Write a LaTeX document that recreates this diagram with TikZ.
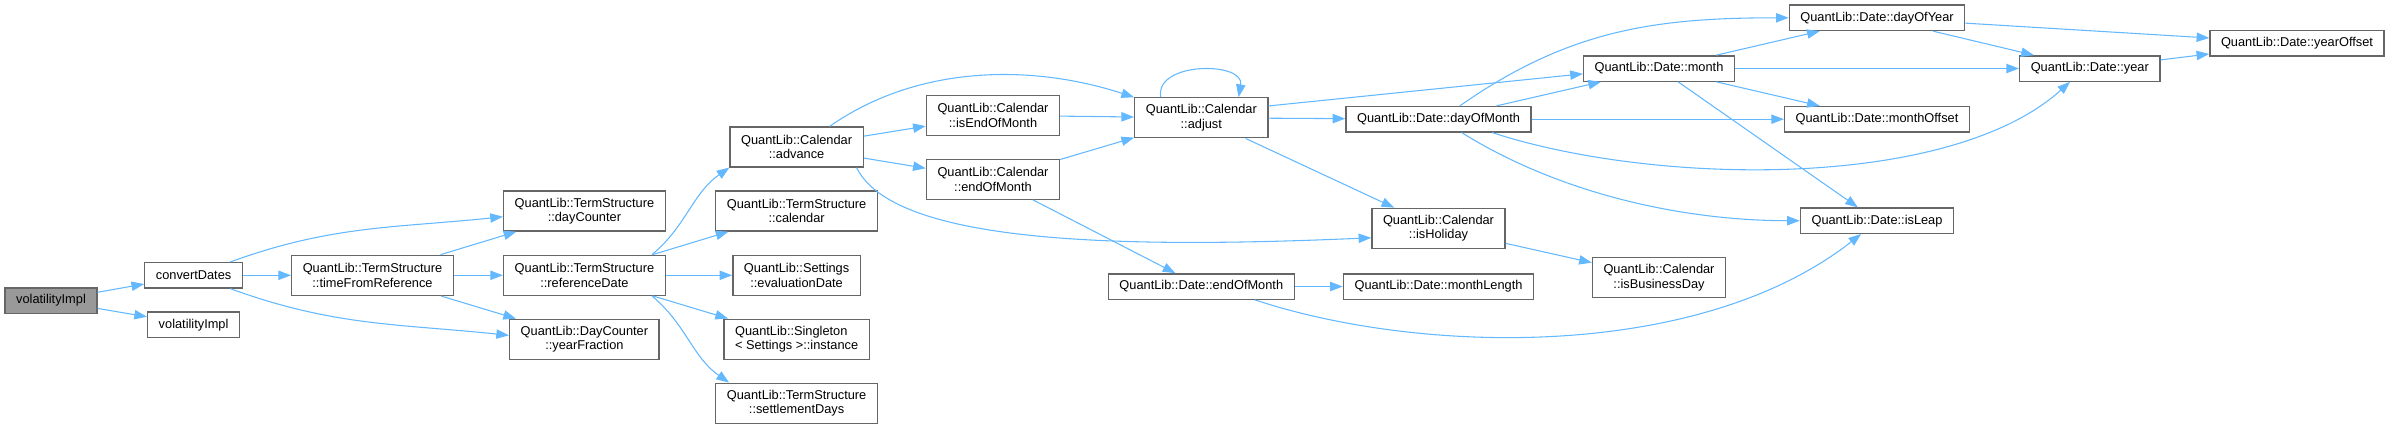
\documentclass[tikz,border=0pt]{standalone}
\usepackage{fontspec}
\setmainfont{Liberation Sans}
\usepackage{xcolor}
\usetikzlibrary{arrows.meta,positioning,calc}
\definecolor{edgeblue}{HTML}{63B8FF}
\definecolor{boxgray}{HTML}{666666}
\definecolor{rootfill}{HTML}{999999}

\begin{document}
\begin{tikzpicture}[
    x=0.75pt, y=-0.75pt,
    every node/.style={font=\fontsize{9.6}{10.7}\selectfont},
    fn/.style={draw=boxgray, line width=1pt, fill=white, inner xsep=8.3pt, inner ysep=1pt, minimum height=19pt, align=center},
    fntwo/.style={fn, minimum height=30pt},
    rootfn/.style={fn, fill=rootfill},
    call/.style={draw=edgeblue, line width=0.8pt, -{Triangle[length=9.5pt,width=7pt]}}
]
\useasboundingbox (0,0) rectangle (2391,429);

% functions, one column per rank
\node[rootfn] (volImplA) at (51,300.5)   {volatilityImpl};
\node[fn]     (cnvDates) at (193.6,275.3) {convertDates};
\node[fn]     (volImplB) at (193.6,324.7) {volatilityImpl};
\node[fntwo]  (tfRef)    at (372.5,275.3) {QuantLib::TermStructure\\::timeFromReference};
\node[fntwo]  (dayCnt)   at (584.4,211)   {QuantLib::TermStructure\\::dayCounter};
\node[fntwo]  (refDate)  at (584.4,275.3) {QuantLib::TermStructure\\::referenceDate};
\node[fntwo]  (yrFrac)   at (584.4,339.3) {QuantLib::DayCounter\\::yearFraction};
\node[fntwo]  (calAdv)   at (796.6,147)   {QuantLib::Calendar\\::advance};
\node[fntwo]  (tsCal)    at (796.6,211)   {QuantLib::TermStructure\\::calendar};
\node[fntwo]  (evalDate) at (796.6,275.3) {QuantLib::Settings\\::evaluationDate};
\node[fntwo, align=left] (sglInst) at (796.6,339.2) {QuantLib::Singleton\\< Settings >::instance};
\node[fntwo]  (settDays) at (796.6,403.2) {QuantLib::TermStructure\\::settlementDays};
\node[fntwo]  (calIsEom) at (993,115.3)   {QuantLib::Calendar\\::isEndOfMonth};
\node[fntwo]  (calEom)   at (993,179.3)   {QuantLib::Calendar\\::endOfMonth};
\node[fntwo]  (calAdj)   at (1201.3,117.8) {QuantLib::Calendar\\::adjust};
\node[fn]     (dtEom)    at (1201.3,286.5) {QuantLib::Date::endOfMonth};
\node[fn]     (dtDom)    at (1438.5,119.2) {QuantLib::Date::dayOfMonth};
\node[fntwo]  (calIsHol) at (1438.5,228.3) {QuantLib::Calendar\\::isHoliday};
\node[fn]     (mLen)     at (1438.5,286.5) {QuantLib::Date::monthLength};
\node[fn]     (dtMonth)  at (1659,68.5)   {QuantLib::Date::month};
\node[fntwo]  (calIsBus) at (1659,277.7)  {QuantLib::Calendar\\::isBusinessDay};
\node[fn]     (dtDoy)    at (1877,17.8)   {QuantLib::Date::dayOfYear};
\node[fn]     (dtMOff)   at (1877,119.2)  {QuantLib::Date::monthOffset};
\node[fn]     (dtLeap)   at (1877,220.7)  {QuantLib::Date::isLeap};
\node[fn]     (dtYear)   at (2089.8,68.5) {QuantLib::Date::year};
\node[fn]     (dtYOff)   at (2297,43.3)   {QuantLib::Date::yearOffset};

% calls
\draw[call] (volImplA) -- (cnvDates);
\draw[call] (volImplA) -- (volImplB);
\draw[call] (cnvDates.20) to[out=20, in=186] (dayCnt.184);
\draw[call] (cnvDates) -- (tfRef);
\draw[call] (cnvDates.-20) to[out=-20, in=174] (yrFrac.177);
\draw[call] (tfRef) -- (dayCnt);
\draw[call] (tfRef) -- (refDate);
\draw[call] (tfRef) -- (yrFrac);
\draw[call] (refDate.17) to[out=40, in=215] (calAdv.197);
\draw[call] (refDate) -- (tsCal);
\draw[call] (refDate) -- (evalDate);
\draw[call] (refDate) -- (sglInst);
\draw[call] (refDate.-17) to[out=-40, in=145] (settDays.163);
\draw[call] (calAdv.32) to[out=35, in=162, looseness=0.9] (calAdj.163);
\draw[call] (calAdv) -- (calIsEom);
\draw[call] (calAdv) -- (calEom);
\draw[call] (calAdv.-19) .. controls +(36,73) and +(-272,12) .. (calIsHol.188);
\draw[call] (calIsEom) -- (calAdj);
\draw[call] (calEom) -- (calAdj);
\draw[call] (calEom) -- (dtEom);
\draw[call] (calAdj.153) to[out=100, in=80, looseness=1.2] (calAdj.29);
\draw[call] (calAdj.10) -- (dtMonth.184);
\draw[call] (calAdj) -- (dtDom);
\draw[call] (calAdj) -- (calIsHol);
\draw[call] (dtEom) -- (mLen);
\draw[call] (dtEom.-14) .. controls +(166,55) and +(-162,127) .. (dtLeap.-140);
\draw[call] (calIsHol) -- (calIsBus);
\draw[call] (dtDom.32) to[out=35, in=180] (dtDoy.west);
\draw[call] (dtDom) -- (dtMonth);
\draw[call] (dtDom) -- (dtMOff);
\draw[call] (dtDom.-14) .. controls +(162,53) and +(-121,109) .. (dtYear.-146);
\draw[call] (dtDom.-30) to[out=-32, in=180, looseness=0.85] (dtLeap.west);
\draw[call] (dtMonth) -- (dtDoy);
\draw[call] (dtMonth) -- (dtYear);
\draw[call] (dtMonth) -- (dtMOff);
\draw[call] (dtMonth) -- (dtLeap);
\draw[call] (dtDoy) -- (dtYOff);
\draw[call] (dtDoy) -- (dtYear);
\draw[call] (dtYear) -- (dtYOff);
\end{tikzpicture}
\end{document}
